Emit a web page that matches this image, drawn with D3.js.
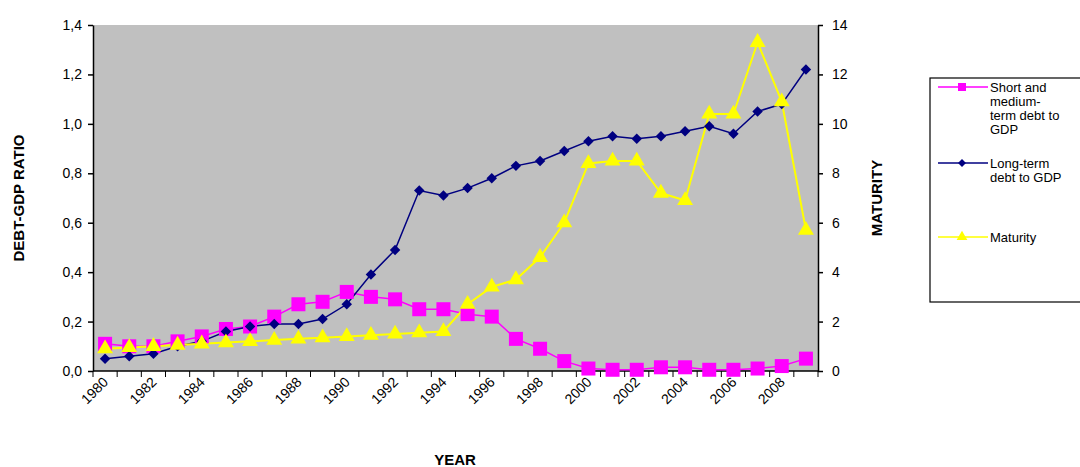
<!DOCTYPE html><html><head><meta charset="utf-8"><script src="https://cdn.jsdelivr.net/npm/d3@7"></script>
<style>body{margin:0;background:#fff}text{font-family:Arial,"Liberation Sans",sans-serif}</style></head><body><svg id="c" width="1080" height="467"></svg><script>
const years=d3.range(1980,2010);
const shortDebt=[0.11,0.10,0.10,0.12,0.14,0.17,0.18,0.22,0.27,0.28,0.32,0.30,0.29,0.25,0.25,0.23,0.22,0.13,0.09,0.04,0.01,0.005,0.005,0.015,0.015,0.005,0.005,0.01,0.02,0.05];
const longDebt=[0.05,0.06,0.07,0.10,0.12,0.16,0.18,0.19,0.19,0.21,0.27,0.39,0.49,0.73,0.71,0.74,0.78,0.83,0.85,0.89,0.93,0.95,0.94,0.95,0.97,0.99,0.96,1.05,1.08,1.22];
const maturity=[0.9,0.95,1.0,1.05,1.1,1.15,1.2,1.25,1.3,1.35,1.4,1.45,1.5,1.55,1.6,2.7,3.4,3.7,4.6,6.0,8.4,8.5,8.5,7.2,6.9,10.4,10.4,13.3,10.9,5.7];
const leftTicks=[0,0.2,0.4,0.6,0.8,1.0,1.2,1.4];
const rightTicks=[0,2,4,6,8,10,12,14];
const svg=d3.select("#c");
const L=93,R=818,T=25,B=371;
const x=d3.scaleBand().domain(years).range([L,R]);
const cx=d=>x(d)+x.bandwidth()/2;
const y=d3.scaleLinear().domain([0,1.4]).range([B,T]);
const y2=d3.scaleLinear().domain([0,14]).range([B,T]);
svg.append("rect").attr("x",L).attr("y",T).attr("width",R-L).attr("height",B-T).attr("fill","#c0c0c0");
const fmt=d=>d3.format(".1f")(d).replace(".",",");
const ga=svg.append("g").attr("transform",`translate(${L},0)`).call(d3.axisLeft(y).tickValues(leftTicks).tickFormat(fmt).tickSize(5).tickSizeOuter(0));
const gr=svg.append("g").attr("transform",`translate(${R},0)`).call(d3.axisRight(y2).tickValues(rightTicks).tickSize(5).tickSizeOuter(0));
[ga,gr].forEach(g=>{g.selectAll("text").attr("font-size",14).attr("fill","#000");g.selectAll("line,path").attr("stroke","#000").attr("stroke-width",1.5);});
ga.selectAll("text").attr("dx",-3);gr.selectAll("text").attr("dx",6);
// x axis with boundary ticks
const gx=svg.append("g");
gx.append("line").attr("x1",L).attr("x2",R).attr("y1",B).attr("y2",B).attr("stroke","#000").attr("stroke-width",1.5);
gx.selectAll("line.t").data(years.concat([2010])).join("line").attr("class","t")
 .attr("x1",d=>d===2010?R:x(d)).attr("x2",d=>d===2010?R:x(d)).attr("y1",B).attr("y2",B+6).attr("stroke","#000");
gx.selectAll("text").data(years.filter(d=>d%2===0)).join("text")
 .attr("transform",d=>`translate(${cx(d)+4},${B+12}) rotate(-45)`).attr("text-anchor","end").attr("font-size",14).text(d=>d);
svg.append("text").attr("x",455).attr("y",465).attr("text-anchor","middle").attr("font-size",15).attr("font-weight","bold").text("YEAR");
svg.append("text").attr("transform","translate(24,198) rotate(-90)").attr("text-anchor","middle").attr("font-size",15).attr("font-weight","bold").text("DEBT-GDP RATIO");
svg.append("text").attr("transform","translate(882,198) rotate(-90)").attr("text-anchor","middle").attr("font-size",15).attr("font-weight","bold").text("MATURITY");
function series(vals,ys,color,lw){svg.append("path").datum(vals).attr("fill","none").attr("stroke",color).attr("stroke-width",lw)
 .attr("d",d3.line().x((d,i)=>cx(years[i])).y(d=>ys(d)));}
series(shortDebt,y,"#ff00ff",1.5);series(longDebt,y,"#000080",1.5);series(maturity,y2,"#ffff00",2);
svg.append("g").selectAll("rect").data(shortDebt).join("rect").attr("x",(d,i)=>cx(years[i])-7).attr("y",d=>y(d)-7).attr("width",14).attr("height",14).attr("fill","#ff00ff");
svg.append("g").selectAll("path").data(longDebt).join("path").attr("transform",(d,i)=>`translate(${cx(years[i])},${y(d)})`).attr("d",d3.symbol(d3.symbolDiamond2,70)()).attr("fill","#000080");
svg.append("g").selectAll("path").data(maturity).join("path").attr("transform",(d,i)=>`translate(${cx(years[i])},${y2(d)})`).attr("d",d3.symbol(d3.symbolTriangle,110)()).attr("fill","#ffff00");
// legend
const lg=svg.append("g");
lg.append("rect").attr("x",930).attr("y",78).attr("width",160).attr("height",224).attr("fill","#fff").attr("stroke","#000").attr("stroke-width",1.2);
const items=[{c:"#ff00ff",s:"sq",y:87,t:["Short and","medium-","term debt to","GDP"]},{c:"#000080",s:"di",y:163,t:["Long-term","debt to GDP"]},{c:"#ffff00",s:"tr",y:237,t:["Maturity"]}];
items.forEach(it=>{lg.append("line").attr("x1",938).attr("x2",988).attr("y1",it.y).attr("y2",it.y).attr("stroke",it.c).attr("stroke-width",1.5);
 const p=lg.append("path").attr("transform",`translate(962,${it.y})`).attr("fill",it.c);
 if(it.s==="sq")p.attr("d",d3.symbol(d3.symbolSquare,64)());else if(it.s==="di")p.attr("d",d3.symbol(d3.symbolDiamond2,40)());else p.attr("d",d3.symbol(d3.symbolTriangle,50)());
 it.t.forEach((s,k)=>lg.append("text").attr("x",990).attr("y",it.y+5+k*14).attr("font-size",13).text(s));});
</script></body></html>
